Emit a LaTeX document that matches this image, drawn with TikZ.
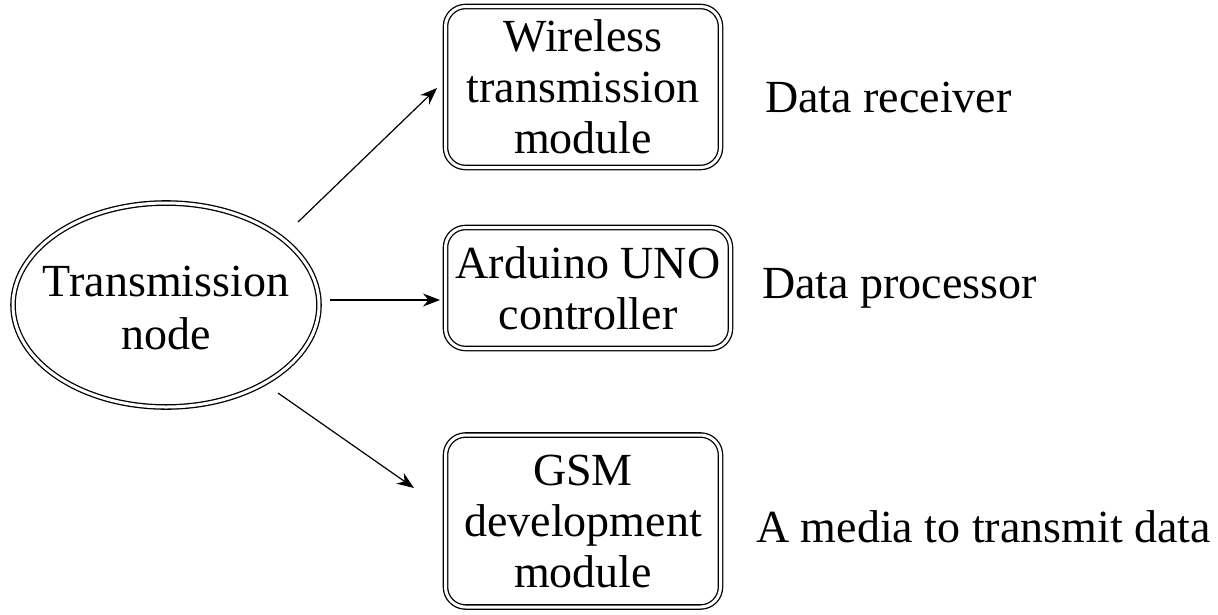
\documentclass[tikz,border=0pt]{standalone}
\usepackage{fontspec}
\setmainfont{Liberation Serif}
\usetikzlibrary{shapes.geometric,arrows.meta}
\begin{document}
\begin{tikzpicture}[x=1pt,y=-1pt,
  dbl/.style={draw, line width=1.3pt, double, double distance=3pt},
  box/.style={dbl, rectangle, rounded corners=20pt, inner sep=0pt, align=center,
    font=\fontsize{46}{51}\selectfont},
  lbl/.style={inner sep=0pt, anchor=west, font=\fontsize{46}{50}\selectfont},
  arr/.style={line width=1.2pt, -{Stealth[length=17pt,width=13pt]}}]
\useasboundingbox (0,0) rectangle (1218,614);
\node[dbl, ellipse, minimum width=306pt, minimum height=204pt, inner sep=0pt] (tn) at (166,305) {};
\node[inner sep=0pt, align=center, font=\fontsize{46}{53}\selectfont] (tntext) at (166,308) {Transmission\\node};
\node[box, minimum width=275pt, minimum height=161pt] (wm) at (583,87) {Wireless\\transmission\\module};
\node[box, minimum width=285pt, minimum height=121pt] (ar) at (588,288) {Arduino UNO\\controller};
\node[box, minimum width=275pt, minimum height=172pt] (gsm) at (583,521) {GSM\\development\\module};
\node[lbl] (l1) at (765,97) {Data receiver};
\node[lbl] (l2) at (762,288) {Data processor};
\node[lbl] (l3) at (756,527) {A media to transmit data};
\coordinate (a1s) at (298,222);
\coordinate (a2s) at (330,300);
\coordinate (a3s) at (278,393);
\coordinate (a1e) at (437,88);
\coordinate (a2e) at (440,300);
\coordinate (a3e) at (414,488);
\draw[arr] (a1s) -- (a1e);
\draw[arr] (a2s) -- (a2e);
\draw[arr] (a3s) -- (a3e);
\end{tikzpicture}
\end{document}
